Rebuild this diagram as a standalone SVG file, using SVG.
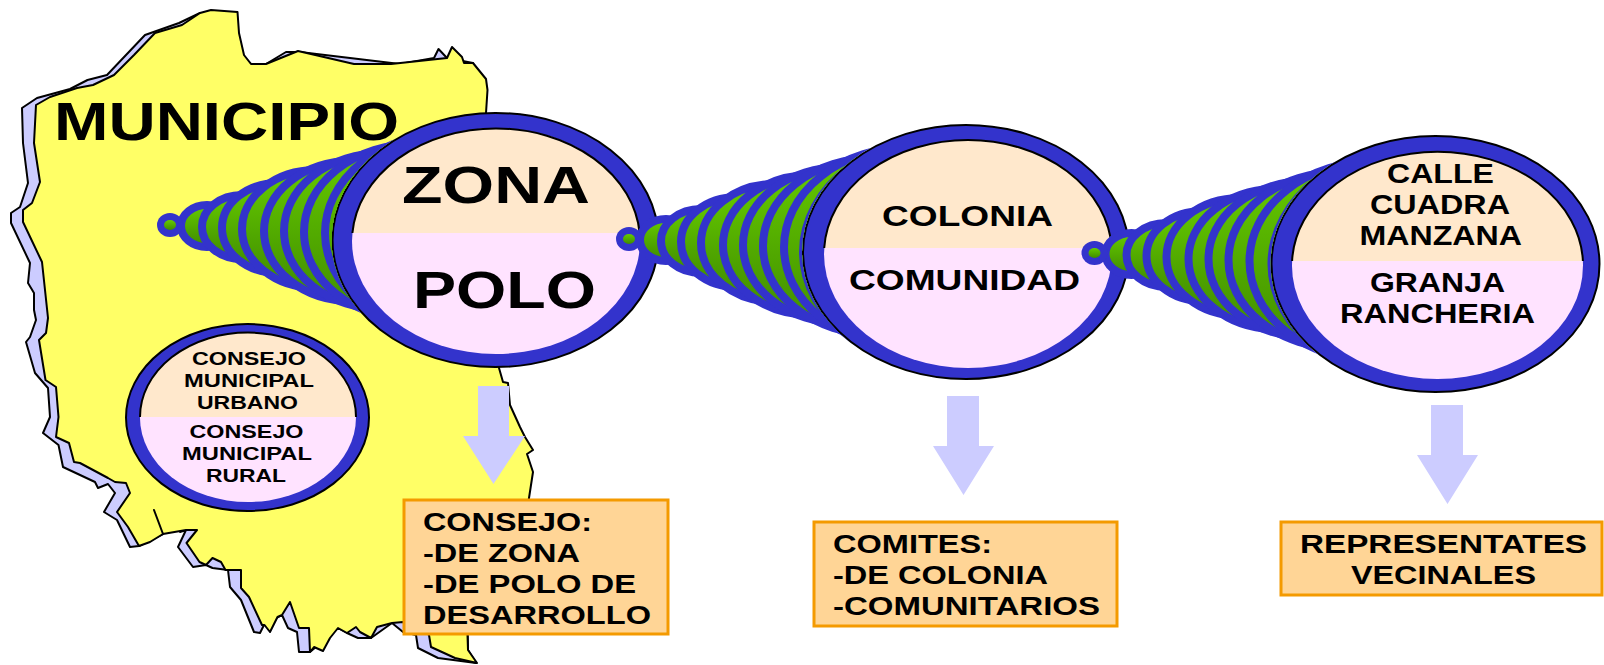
<svg xmlns="http://www.w3.org/2000/svg" width="1604" height="665" viewBox="0 0 1604 665">
<style>
text{font-family:"Liberation Sans",Arial,sans-serif;font-weight:700;fill:#000;text-anchor:start}
.rim{fill:#3333cc;stroke:#000;stroke-width:2}
.low{fill:#ffe3ff}
.up{fill:#ffe8cc;stroke:#000;stroke-width:2}
.arrow{fill:#ccccff}
.box{fill:#ffd596;stroke:#f49a00;stroke-width:3}
.k{fill:url(#g);stroke:#3333cc;stroke-width:8}
.blue{fill:#3333cc}
</style>
<defs>
<linearGradient id="g" x1="0" y1="0" x2="0" y2="1"><stop offset="0" stop-color="#66cc00"/><stop offset="1" stop-color="#3f8a00"/></linearGradient>
<clipPath id="c1"><path clip-rule="evenodd" d="M0 0H1604V665H0ZM331.500 240a164 128 0 1 0 328 0a164 128 0 1 0 -328 0Z"/></clipPath>
<clipPath id="c2"><path clip-rule="evenodd" d="M0 0H1604V665H0ZM802 252a164 128 0 1 0 328 0a164 128 0 1 0 -328 0Z"/></clipPath>
<clipPath id="c3"><path clip-rule="evenodd" d="M0 0H1604V665H0ZM1270.500 264a165 129 0 1 0 330 0a165 129 0 1 0 -330 0Z"/></clipPath>
<g id="cone">
<ellipse class="k" cx="37" cy="1" rx="26" ry="21"/>
<ellipse class="k" cx="72" cy="2" rx="40" ry="32"/>
<ellipse class="k" cx="108" cy="3" rx="56" ry="45"/>
<ellipse class="k" cx="146" cy="4" rx="74" ry="59"/>
<ellipse class="k" cx="182" cy="6" rx="88" ry="70"/>
<ellipse class="k" cx="212" cy="6" rx="98" ry="78"/>
<ellipse class="k" cx="245" cy="7" rx="111" ry="88"/>
<ellipse class="k" cx="281" cy="8" rx="126" ry="100"/>
<ellipse class="blue" cx="0" cy="0" rx="13" ry="12"/>
<ellipse cx="0" cy="0" rx="6" ry="5" fill="url(#g)"/>
</g>
</defs>
<g id="map">
<path fill="#ccccff" stroke="#000" stroke-width="2" stroke-linejoin="round" d="M37 98L22 108L23 143L28 183L20 207L11 213L11 223L30 263L28 283L34 293L34 310L36 320L30 337L26 342L35 373L48 388L50 417L43 433L58.500 445L63 467L95 482L98 488L108 484L115 493L104 512L117 520L130 547L139 546L163 534L154 510L176 527L180 532L186 530L178 547L193 567L206 565L212.500 568L228 570L230 587L241 600L254 632L260 633L264 625L282 615L288 628L297 632L299 652L310 652L338 628L347 633L358 638L371 638L392 623L403 632L416 635L418 648L438 658L476 663L468 650L467 600L300 300L486 113L473 63L447 58L438.500 49L434 58L400 64L300 52L286 52L266 64L251 64L200 13L179 23L145 35L107 75L87.500 80L70 89Z"/>
<path id="land" fill="#ffff66" stroke="#000" stroke-width="2" stroke-linejoin="round" d="M36 105L50 97L77 88L93 85L114 75L134 55L155 33L182 25L200 13L211 10L237.500 12L239 33L244 55L251 64L266 64L298 51L354 64L391 64L447 58L452 47L462 57L464 63L473 63L486 79L487.500 90L486 113L490 300L499 368L503 382L508 383L510 405L520 427L525 437L533 450L527 454L533 472L529 498L520 560L467.500 635L468 650L477 663L455 658L431 647L429 635L420 628L403 622L392 623L377 627L371 638L360 632L356 627L347 633L338 628L330 638L323 651L314 647L310 652L309 628L299 628L290 602L282 615L277.500 617L270 632L264.500 625L262 625L249 597L241 588L241 570L225.500 570L221 562L212.500 558L206 565L199.500 562L186.500 543L197 530L186 530L163 534L154 510L163 534L150 542L139 546L128 527L117 512L130 493L126 483L115 482L108 478L80 463L74 462L69 443L56 437L58.500 417L56 387L45.500 380L39 340L46 333L48 318L45 290L42 262L23 222L23 210L32 203L40 182L34 143Z"/>
<text x="54" y="140" font-size="53" textLength="345" lengthAdjust="spacingAndGlyphs">MUNICIPIO</text>
</g>
<g id="consejo-municipal">
<ellipse class="rim" cx="247.500" cy="417.500" rx="121.500" ry="93.500"/>
<ellipse class="low" cx="248" cy="417.500" rx="108" ry="84.500"/>
<path class="up" d="M140 417A108 84.500 0 0 1 356 417"/>
<g font-size="18">
<text x="192" y="365" textLength="114" lengthAdjust="spacingAndGlyphs">CONSEJO</text>
<text x="184" y="387" textLength="130" lengthAdjust="spacingAndGlyphs">MUNICIPAL</text>
<text x="197" y="409" textLength="101" lengthAdjust="spacingAndGlyphs">URBANO</text>
<text x="189.500" y="438" textLength="114" lengthAdjust="spacingAndGlyphs">CONSEJO</text>
<text x="182" y="460" textLength="130" lengthAdjust="spacingAndGlyphs">MUNICIPAL</text>
<text x="206" y="482" textLength="80" lengthAdjust="spacingAndGlyphs">RURAL</text>
</g>
</g>
<g id="zona">
<ellipse class="rim" cx="495.500" cy="240" rx="163" ry="127"/>
<ellipse class="low" cx="496" cy="241" rx="144" ry="113"/>
<path class="up" d="M352.400 233A144 113 0 0 1 639.600 233"/>
<text x="402" y="203" font-size="51" textLength="188" lengthAdjust="spacingAndGlyphs">ZONA</text>
<text x="413" y="308" font-size="51" textLength="183" lengthAdjust="spacingAndGlyphs">POLO</text>
</g>
<g id="colonia">
<ellipse class="rim" cx="966" cy="252" rx="163" ry="127"/>
<ellipse class="low" cx="968" cy="254" rx="144" ry="114"/>
<path class="up" d="M824.200 248A144 114 0 0 1 1111.800 248"/>
<text x="882" y="226" font-size="29" textLength="171" lengthAdjust="spacingAndGlyphs">COLONIA</text>
<text x="849" y="290" font-size="29" textLength="231" lengthAdjust="spacingAndGlyphs">COMUNIDAD</text>
</g>
<g id="calle">
<ellipse class="rim" cx="1435.500" cy="264" rx="164" ry="128"/>
<ellipse class="low" cx="1437.500" cy="265.500" rx="145.500" ry="113.500"/>
<path class="up" d="M1292.100 261A145.500 113.500 0 0 1 1582.900 261"/>
<g font-size="27">
<text x="1387" y="183" textLength="107" lengthAdjust="spacingAndGlyphs">CALLE</text>
<text x="1370" y="214" textLength="140" lengthAdjust="spacingAndGlyphs">CUADRA</text>
<text x="1359.500" y="245" textLength="162.500" lengthAdjust="spacingAndGlyphs">MANZANA</text>
<text x="1370" y="292" textLength="135" lengthAdjust="spacingAndGlyphs">GRANJA</text>
<text x="1340" y="323" textLength="195" lengthAdjust="spacingAndGlyphs">RANCHERIA</text>
</g>
</g>
<g id="connectors">
<g clip-path="url(#c1)"><use href="#cone" x="170" y="225"/></g>
<g clip-path="url(#c2)"><use href="#cone" x="629" y="239"/><ellipse class="blue" cx="962" cy="252" rx="163" ry="124"/></g>
<g clip-path="url(#c3)"><use href="#cone" x="1094.500" y="253"/><ellipse class="blue" cx="1431.500" cy="264" rx="164" ry="125"/></g>
</g>
<g id="arrows">
<path class="arrow" d="M478 386H509V436H525L493.500 484L463 436H478Z"/>
<path class="arrow" d="M947 396H979V446H994L963.500 495L933 446H947Z"/>
<path class="arrow" d="M1431 405H1463V455H1478L1447.500 504L1417 455H1431Z"/>
</g>
<g id="box-consejo">
<rect class="box" x="404" y="500" width="264" height="134"/>
<g font-size="26">
<text x="423" y="531" textLength="169" lengthAdjust="spacingAndGlyphs">CONSEJO:</text>
<text x="423" y="562" textLength="157" lengthAdjust="spacingAndGlyphs">-DE ZONA</text>
<text x="423" y="593" textLength="213" lengthAdjust="spacingAndGlyphs">-DE POLO DE</text>
<text x="423" y="624" textLength="228" lengthAdjust="spacingAndGlyphs">DESARROLLO</text>
</g>
</g>
<g id="box-comites">
<rect class="box" x="814" y="522" width="303" height="104"/>
<g font-size="26">
<text x="833" y="553" textLength="159" lengthAdjust="spacingAndGlyphs">COMITES:</text>
<text x="833" y="584" textLength="215" lengthAdjust="spacingAndGlyphs">-DE COLONIA</text>
<text x="833" y="615" textLength="267" lengthAdjust="spacingAndGlyphs">-COMUNITARIOS</text>
</g>
</g>
<g id="box-representates">
<rect class="box" x="1281" y="522" width="321" height="73"/>
<g font-size="26">
<text x="1300" y="553" textLength="287" lengthAdjust="spacingAndGlyphs">REPRESENTATES</text>
<text x="1351" y="584" textLength="185" lengthAdjust="spacingAndGlyphs">VECINALES</text>
</g>
</g>
</svg>
